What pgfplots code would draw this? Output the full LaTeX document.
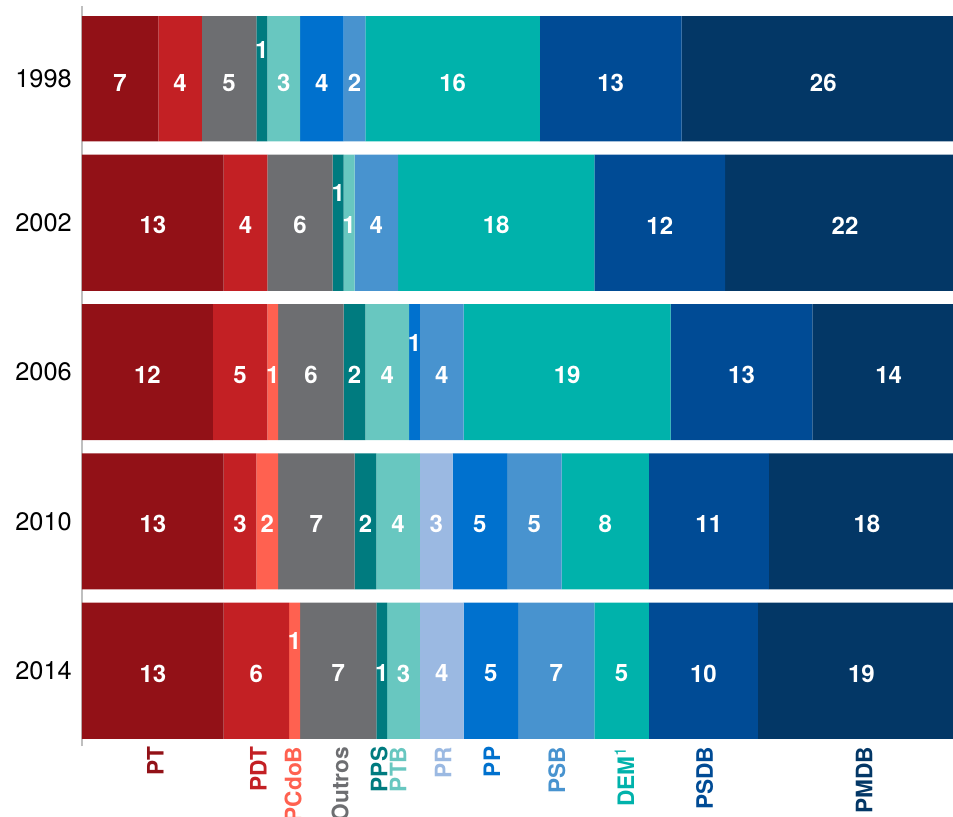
\documentclass[border=0pt]{standalone}
\usepackage{pgfplots}
\pgfplotsset{compat=1.18}
\usepackage{fontspec}
\setmainfont{TeX Gyre Heros}
\definecolor{cPT}{RGB}{146,17,23}
\definecolor{cPDT}{RGB}{195,32,36}
\definecolor{cPCdoB}{RGB}{255,97,80}
\definecolor{cOutros}{RGB}{109,110,113}
\definecolor{cPPS}{RGB}{0,123,127}
\definecolor{cPTB}{RGB}{104,199,192}
\definecolor{cPR}{RGB}{155,185,226}
\definecolor{cPP}{RGB}{0,113,206}
\definecolor{cPSB}{RGB}{72,147,207}
\definecolor{cDEM}{RGB}{0,178,171}
\definecolor{cPSDB}{RGB}{0,75,149}
\definecolor{cPMDB}{RGB}{3,55,102}
\pgfplotsset{
  common/.style={
    at={(61.5pt,52.875pt)}, anchor=south west,
    scale only axis, width=653.25pt, height=547.4pt,
    xmin=0, xmax=79.9, ymin=-0.507, ymax=4.38,
  }
}
\begin{document}
\begin{tikzpicture}
\useasboundingbox (0pt,0pt) rectangle (714.75pt,612.75pt);
\clip (0pt,0pt) rectangle (714.75pt,612.75pt);
\begin{axis}[
  common,
  xbar stacked, bar width=0.911,
  axis lines*=left,
  x axis line style={draw=none},
  y axis line style={draw=black!25, line width=1pt, shorten >=-8pt, -},
  major tick length=0pt,
  ytick={0,1,2,3,3.962}, yticklabels={2014,2010,2006,2002,1998},
  yticklabel style={font=\fontsize{19}{19}\selectfont, inner sep=0pt, xshift=-7.5pt},
  xtick={6.43,15.87,19.07,23.38,26.95,28.69,32.81,37.3,43.25,49.45,56.8,71.45},
  xticklabels={\textcolor{cPT}{PT},\textcolor{cPDT}{PDT},\textcolor{cPCdoB}{PCdoB},\textcolor{cOutros}{Outros},\textcolor{cPPS}{PPS},\textcolor{cPTB}{PTB},\textcolor{cPR}{PR},\textcolor{cPP}{PP},\textcolor{cPSB}{PSB},\textcolor{cDEM}{DEM\textsuperscript{\mdseries 1}},\textcolor{cPSDB}{PSDB},\textcolor{cPMDB}{PMDB}},
  xticklabel style={rotate=90, anchor=east, inner sep=0pt, yshift=-2.5pt, font=\bfseries\fontsize{17}{17}\selectfont},
  every axis plot/.append style={draw=none},
]
% y: 4=1998, 3=2002, 2=2006, 1=2010, 0=2014
\addplot[fill=cPT]     coordinates {(7,4) (13,3) (12,2) (13,1) (13,0)};
\addplot[fill=cPDT]    coordinates {(4,4) (4,3) (5,2) (3,1) (6,0)};
\addplot[fill=cPCdoB]  coordinates {(0,4) (0,3) (1,2) (2,1) (1,0)};
\addplot[fill=cOutros] coordinates {(5,4) (6,3) (6,2) (7,1) (7,0)};
\addplot[fill=cPPS]    coordinates {(1,4) (1,3) (2,2) (2,1) (1,0)};
\addplot[fill=cPTB]    coordinates {(3,4) (1,3) (4,2) (4,1) (3,0)};
\addplot[fill=cPR]     coordinates {(0,4) (0,3) (0,2) (3,1) (4,0)};
\addplot[fill=cPP]     coordinates {(4,4) (0,3) (1,2) (5,1) (5,0)};
\addplot[fill=cPSB]    coordinates {(2,4) (4,3) (4,2) (5,1) (7,0)};
\addplot[fill=cDEM]    coordinates {(16,4) (18,3) (19,2) (8,1) (5,0)};
\addplot[fill=cPSDB]   coordinates {(13,4) (12,3) (13,2) (11,1) (10,0)};
\addplot[fill=cPMDB]   coordinates {(26,4) (22,3) (14,2) (18,1) (19,0)};
\end{axis}
\begin{axis}[common, hide axis, clip=false]
% value labels at segment centres
\addplot[only marks, mark=*, mark size=0pt,
  mark options={draw=none,fill=none},
  nodes near coords, point meta=explicit symbolic,
  nodes near coords style={font=\bfseries\fontsize{18}{18}\selectfont, text=white, anchor=center, inner sep=0pt}]
  table[meta=lab] {
x y lab
3.5 3.936 7
9 3.936 4
13.5 3.936 5
16.5 4.157 1
18.5 3.936 3
22 3.936 4
25 3.936 2
34 3.936 16
48.5 3.936 13
68 3.936 26
6.5 2.982 13
15 2.982 4
20 2.982 6
23.5 3.198 1
24.5 2.982 1
27 2.982 4
38 2.982 18
53 2.982 12
70 2.982 22
6 1.982 12
14.5 1.982 5
17.5 1.982 1
21 1.982 6
25 1.982 2
28 1.982 4
30.5 2.198 1
33 1.982 4
44.5 1.982 19
60.5 1.982 13
74 1.982 14
6.5 0.982 13
14.5 0.982 3
17 0.982 2
21.5 0.982 7
26 0.982 2
29 0.982 4
32.5 0.982 3
36.5 0.982 5
41.5 0.982 5
48 0.982 8
57.5 0.982 11
72 0.982 18
6.5 -0.018 13
16 -0.018 6
19.5 0.198 1
23.5 -0.018 7
27.5 -0.018 1
29.5 -0.018 3
33 -0.018 4
37.5 -0.018 5
43.5 -0.018 7
49.5 -0.018 5
57 -0.018 10
71.5 -0.018 19
};
\end{axis}
\end{tikzpicture}
\end{document}
